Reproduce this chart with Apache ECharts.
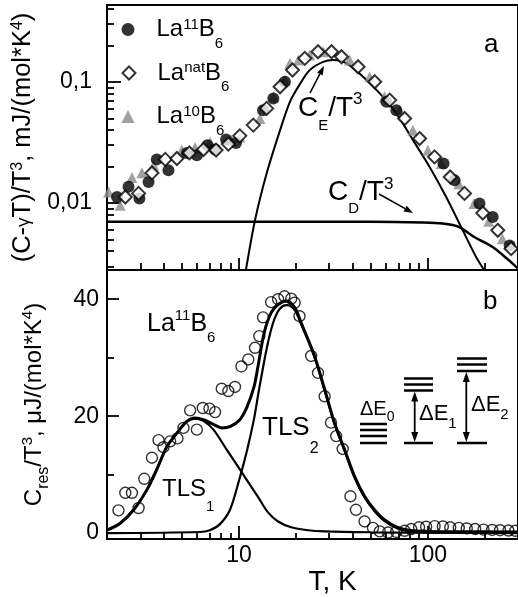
<!DOCTYPE html>
<html><head><meta charset="utf-8">
<script src="https://cdn.jsdelivr.net/npm/echarts@6/dist/echarts.min.js"></script>
<style>html,body{margin:0;padding:0;background:#fff}#c{width:518px;height:597px}</style>
</head><body><div id="c"></div>
<script>
const FONT = 'Liberation Sans, Arial, sans-serif';

// ---------- axis ranges & ticks ----------
const X_MIN = 2, X_MAX = 300;
const YT_MIN = 0.0028, YT_MAX = 0.43;
const YB_MIN = -1, YB_MAX = 45;
const xMajorTicks = [10, 100];
const xMinorTicks = [3, 4, 5, 6, 7, 8, 9, 20, 30, 40, 50, 60, 70, 80, 90, 200, 300];
const yTopMajorTicks = [0.01, 0.1];
const yTopMinorTicks = [0.003, 0.004, 0.005, 0.006, 0.007, 0.008, 0.009, 0.02, 0.03, 0.04, 0.05, 0.06, 0.07, 0.08, 0.09, 0.2, 0.3, 0.4];
const yBotLabels = [0, 20, 40];
const yBotMajorTicks = [0, 20, 40];
const yBotMinorTicks = [10, 30];

// ---------- panel a: (C - gamma T)/T^3 ----------
const T_La11 = [2.26, 2.60, 2.97, 3.32, 3.67, 4.23, 5.3, 5.98, 6.80, 7.47, 8.54, 9.64, 13.4, 15.2, 17.5, 60.3, 68.1, 121, 138.4, 187.6, 220.4, 271];
const C_La11 = [0.0112, 0.0136, 0.0109, 0.0149, 0.0229, 0.0186, 0.0258, 0.0248, 0.0300, 0.0276, 0.0334, 0.0313, 0.0583, 0.0729, 0.100, 0.0684, 0.0583, 0.0212, 0.0154, 0.00989, 0.00766, 0.00446];

const T_LaNat = [2.50, 2.94, 3.46, 4.07, 4.69, 5.46, 6.48, 7.56, 8.78, 10.1, 11.9, 14.0, 16.5, 19.2, 22.3, 26.2, 30.9, 34.9, 42.7, 52.3, 62.8, 75.3, 90.4, 108.5, 131.3, 156.3, 195.3, 234.4, 275.8];
const C_LaNat = [0.0112, 0.0120, 0.0177, 0.0229, 0.0233, 0.0259, 0.0276, 0.0273, 0.0306, 0.0358, 0.0439, 0.0603, 0.0910, 0.125, 0.156, 0.177, 0.177, 0.161, 0.133, 0.100, 0.0706, 0.0498, 0.0340, 0.0240, 0.0164, 0.0120, 0.00826, 0.00595, 0.0042];

const T_La10 = [2.04, 2.35, 2.71, 3.06, 3.53, 4.98, 5.85, 7.03, 9.15, 10.1, 12.9, 15.2, 17.5, 18.6, 20.6, 23.7, 27.9, 38.5, 49.2, 58.9, 70.8, 83.3, 99.9, 117.7, 146, 175.5, 210, 248];
const C_La10 = [0.0123, 0.0096, 0.0162, 0.0178, 0.0205, 0.0274, 0.0287, 0.0319, 0.0330, 0.0351, 0.0498, 0.0752, 0.103, 0.142, 0.151, 0.166, 0.177, 0.151, 0.110, 0.0752, 0.0583, 0.0399, 0.0272, 0.0212, 0.0144, 0.00989, 0.00707, 0.00508];

const T_CE = [10.6, 10.85, 12.15, 14.0, 16.5, 18.6, 21.0, 23.7, 27.9, 31.5, 37.1, 45.4, 55.6, 68.1, 83.4, 102, 125, 153, 180, 199, 210];
const V_CE = [0.0022, 0.00275, 0.0072, 0.0175, 0.0399, 0.0684, 0.0957, 0.125, 0.146, 0.151, 0.142, 0.110, 0.0802, 0.0548, 0.0330, 0.0199, 0.0112, 0.00595, 0.00358, 0.00277, 0.0023];

const T_CD = [2, 5, 10, 20, 50, 94, 120, 146, 176, 220, 269, 300];
const V_CD = [0.0070, 0.0070, 0.0070, 0.0070, 0.0070, 0.0069, 0.00676, 0.00634, 0.00524, 0.00433, 0.00336, 0.00287];

// ---------- panel b: C_res/T^3 ----------
const T_res = [2.30, 2.50, 2.71, 2.94, 3.15, 3.46, 3.75, 3.98, 4.32, 4.72, 5.08, 5.51, 5.98, 6.43, 6.97, 7.47, 8.10, 8.78, 9.52, 10.3, 11.2, 12.15, 12.8, 13.4, 14.8, 16.1, 17.4, 18.9, 19.7, 20.9, 24.1, 26.2, 28.4, 30.7, 32.7, 35.4, 38.9, 41.6, 46.2, 51.2, 55.6, 61.5, 68.0, 75.3, 81.6, 89.8, 97.9, 108.5, 120, 131.3, 145.7, 160.6, 178, 197, 219, 241, 267, 290];
const V_res = [3.9, 6.9, 6.9, 4.3, 9.3, 12.9, 15.9, 14.7, 15.7, 16.2, 18.0, 21.0, 17.7, 21.4, 21.3, 20.7, 24.7, 24.3, 25.0, 28.5, 29.7, 31.7, 33.7, 36.9, 39.5, 40.0, 40.5, 40.1, 39.4, 37.1, 30.3, 27.4, 23.4, 18.9, 16.6, 14.4, 6.3, 4.0, 2.0, 0.9, 0.3, 0.1, 0.2, 0.4, 0.7, 1.0, 1.1, 1.2, 1.15, 1.0, 0.9, 0.8, 0.7, 0.6, 0.55, 0.5, 0.45, 0.4];

const T_fit = [2.0, 2.35, 2.77, 3.25, 3.67, 4.15, 4.69, 5.29, 5.85, 6.48, 7.32, 8.1, 8.96, 10.1, 11.0, 12.0, 12.6, 13.6, 14.8, 16.1, 17.8, 19.7, 21.3, 25.1, 28.4, 32.0, 36.2, 40.9, 46.2, 52.1, 58.8, 69.0, 81, 100, 150, 300];
const V_fit = [0.5, 1.7, 4.0, 7.4, 10.9, 14.8, 17.1, 19.1, 19.7, 19.4, 18.6, 18.0, 18.2, 19.4, 21.5, 25.0, 28.5, 34.3, 37.7, 39.1, 39.7, 38.6, 36.0, 30.3, 24.6, 18.9, 14.3, 9.7, 6.3, 4.0, 2.3, 1.0, 0.45, 0.3, 0.25, 0.2];

const T_TLS1 = [2.0, 2.35, 2.77, 3.25, 3.67, 4.15, 4.69, 5.29, 5.85, 6.48, 7.32, 8.6, 10.1, 11.9, 12.6, 14.2, 16.1, 18.9, 23.2, 28.4, 50, 100, 300];
const V_TLS1 = [0.5, 1.7, 4.0, 7.4, 10.9, 14.8, 17.1, 19.1, 19.6, 19.2, 17.7, 14.3, 10.9, 7.4, 6.2, 3.6, 2.0, 1.0, 0.5, 0.3, 0.15, 0.08, 0.03];

const T_TLS2 = [2.0, 6.2, 7.0, 7.9, 8.96, 10.0, 11.0, 12.0, 12.6, 13.0, 14.0, 15.0, 16.0, 17.0, 18.0, 19.7, 21.3, 25.1, 28.4, 32.0, 36.2, 40.9, 46.2, 52.1, 58.8, 69.0, 81, 100, 150, 300];
const V_TLS2 = [0, 0.2, 0.5, 1.5, 4.0, 9.0, 14.0, 19.5, 23.5, 26.0, 31.5, 35.5, 37.8, 38.8, 39.0, 38.2, 35.8, 30.1, 24.4, 18.7, 14.1, 9.5, 6.1, 3.8, 2.1, 0.8, 0.3, 0.1, 0.05, 0.0];

// ---------- helpers ----------
const zip = (a, b) => a.map((v, i) => [v, b[i]]);
const isPow = (v, p) => Math.abs(Math.log10(v) - p) < 1e-6;

function rtext(x, y, text, fs, rich) {
  return {
    type: 'text', x: x, y: y, z: 50,
    style: {
      text: text, rich: rich, fill: '#000', fontFamily: FONT, fontSize: fs,
      align: 'left', verticalAlign: 'middle'
    }
  };
}
function tok(fs, padTop, padBottom) {
  return { fontFamily: FONT, fontSize: fs, fill: '#000', color: '#000', padding: [padTop || 0, 0, padBottom || 0, 0] };
}
function hline(x1, x2, y, w) {
  return { type: 'line', z: 50, shape: { x1: x1, y1: y, x2: x2, y2: y }, style: { stroke: '#000', lineWidth: w || 2.5 } };
}
function arrow(x1, y1, x2, y2, L, W) {
  const a = Math.atan2(y2 - y1, x2 - x1), c = Math.cos(a), s = Math.sin(a);
  const bx = x2 - L * c, by = y2 - L * s;
  return [
    { type: 'line', z: 50, shape: { x1: x1, y1: y1, x2: bx, y2: by }, style: { stroke: '#000', lineWidth: 1.6 } },
    { type: 'polygon', z: 50, shape: { points: [[x2, y2], [bx - W * s, by + W * c], [bx + W * s, by - W * c]] }, style: { fill: '#000' } }
  ];
}
function dblArrow(x, y1, y2) {
  return [
    { type: 'line', z: 50, shape: { x1: x, y1: y1 + 8, x2: x, y2: y2 - 8 }, style: { stroke: '#000', lineWidth: 1.8 } },
    { type: 'polygon', z: 50, shape: { points: [[x, y1], [x - 3.5, y1 + 10], [x + 3.5, y1 + 10]] }, style: { fill: '#000' } },
    { type: 'polygon', z: 50, shape: { points: [[x, y2], [x - 3.5, y2 - 10], [x + 3.5, y2 - 10]] }, style: { fill: '#000' } }
  ];
}

// tick marks drawn by the axes themselves (inside, custom values)
function ticks(values, len) {
  return { show: true, inside: true, length: len, customValues: values, lineStyle: { color: '#000', width: 1.8 } };
}
// hidden helper axis that only carries a second set of ticks
function auxAxis(gridIndex, type, min, max, position, values, len) {
  return {
    gridIndex: gridIndex, type: type, min: min, max: max, position: position, offset: 0,
    axisLine: { show: false, onZero: false }, axisLabel: { show: false }, splitLine: { show: false },
    axisTick: ticks(values, len)
  };
}

const legendRich = {
  s: { width: 17 },
  m: { fontFamily: FONT, fontSize: 24, color: '#000' },
  sp: { fontFamily: FONT, fontSize: 15, color: '#000', padding: [0, 0, 10, 0] },
  sb: { fontFamily: FONT, fontSize: 15, color: '#000', padding: [28, 0, 0, 0] }
};
function legendItem(name, top, text, itemStyle) {
  const l = {
    data: [name], left: 121.5, top: top, orient: 'vertical', itemWidth: 13, itemHeight: 13,
    padding: 0, selectedMode: false, formatter: () => text,
    textStyle: { fontFamily: FONT, fontSize: 24, color: '#000', rich: legendRich }
  };
  if (itemStyle) l.itemStyle = itemStyle;
  return l;
}

// ---------- graphic annotations ----------
const graphics = [];
graphics.push(rtext(484, 45, 'a', 26));
graphics.push(rtext(483, 301.5, 'b', 26));
graphics.push(rtext(298, 108.3, '{m|C}{sb|E}{m|/T}{sp|3}', 28, { m: tok(28), sb: tok(15, 35, 0), sp: tok(17, 0, 17) }));
graphics.push(rtext(328, 192, '{m|C}{sb|D}{m|/T}{sp|3}', 28, { m: tok(28), sb: tok(15, 33, 0), sp: tok(17, 0, 15) }));
graphics.push(rtext(147, 324.3, '{m|La}{sp|11}{m|B}{sb|6}', 25, { m: tok(25), sp: tok(15, 0, 16), sb: tok(15, 28, 0) }));
graphics.push(rtext(162, 489.7, '{m|TLS}{sb|1}', 24, { m: tok(24), sb: tok(15, 34, 0) }));
graphics.push(rtext(262, 427.7, '{m|TLS}{sb|2}', 26, { m: tok(26), sb: tok(16, 42, 0) }));
graphics.push(rtext(360, 409, '{m|ΔE}{sb|0}', 20, { m: tok(20), sb: tok(14, 16, 0) }));
graphics.push(rtext(419, 414, '{m|ΔE}{sb|1}', 22, { m: tok(22), sb: tok(15, 20, 0) }));
graphics.push(rtext(471, 405, '{m|ΔE}{sb|2}', 22, { m: tok(22), sb: tok(15, 20, 0) }));
[424, 430, 436, 443].forEach(y => graphics.push(hline(360, 387, y)));
[378.5, 384.5, 390.5, 443].forEach(y => graphics.push(hline(404, 433, y)));
[358.5, 364.5, 371, 443].forEach(y => graphics.push(hline(457, 487, y)));
graphics.push(...dblArrow(414.7, 391.5, 442));
graphics.push(...dblArrow(466.3, 372, 442));
graphics.push(...arrow(310, 93, 324, 66, 9, 3.2));
graphics.push(...arrow(379, 194, 413, 213, 9, 3.2));

// ---------- chart ----------
const chart = echarts.init(document.getElementById('c'));
const lab = { fontFamily: FONT, fontSize: 23, color: '#000' };

const option = {
  animation: false,
  grid: [
    { left: 107, top: 5, width: 412, height: 265, show: true, borderColor: '#000', borderWidth: 2 },
    { left: 107, top: 270, width: 412, height: 269, show: true, borderColor: '#000', borderWidth: 2 }
  ],
  xAxis: [
    { gridIndex: 0, type: 'log', min: X_MIN, max: X_MAX, position: 'bottom', offset: 0,
      axisLine: { show: false, onZero: false }, axisTick: ticks(xMinorTicks, 7),
      axisLabel: { show: false }, splitLine: { show: false } },
    { gridIndex: 1, type: 'log', min: X_MIN, max: X_MAX, position: 'bottom', offset: 0,
      axisLine: { show: false, onZero: false }, axisTick: ticks(xMinorTicks, 6), splitLine: { show: false },
      axisLabel: Object.assign({ margin: 5, showMinLabel: false, showMaxLabel: false,
        formatter: v => isPow(v, 1) ? '10' : (isPow(v, 2) ? '100' : '') }, lab),
      name: 'T, K', nameLocation: 'middle', nameGap: 28,
      nameTextStyle: { fontFamily: FONT, fontSize: 28, color: '#000', padding: [0, 0, 0, 40] } },
    auxAxis(0, 'log', X_MIN, X_MAX, 'bottom', xMajorTicks, 12),
    auxAxis(1, 'log', X_MIN, X_MAX, 'bottom', xMajorTicks, 13)
  ],
  yAxis: [
    { gridIndex: 0, type: 'log', min: YT_MIN, max: YT_MAX, position: 'left', offset: 0,
      axisLine: { show: false }, axisTick: ticks(yTopMinorTicks, 7), splitLine: { show: false },
      axisLabel: Object.assign({ margin: 15, showMinLabel: false, showMaxLabel: false,
        formatter: v => isPow(v, -1) ? '0,1' : (isPow(v, -2) ? '0,01' : '') }, lab),
      name: '{m|(C-}{g|γ}{m|T)/T}{sp|3}{m|, mJ/(mol*K}{sp|4}{m|)}',
      nameLocation: 'middle', nameRotate: 90, nameGap: 57,
      nameTextStyle: { rich: { m: tok(25.5), g: tok(19), sp: tok(16, 0, 12) } } },
    { gridIndex: 1, type: 'value', min: YB_MIN, max: YB_MAX, position: 'left', offset: 0,
      axisLine: { show: false }, axisTick: ticks(yBotMajorTicks, 12), splitLine: { show: false },
      axisLabel: Object.assign({ margin: 8, customValues: yBotLabels }, lab),
      name: '{m|C}{sb|res}{m|/T}{sp|3}{m|, μJ/(mol*K}{sp|4}{m|)}',
      nameLocation: 'middle', nameRotate: 90, nameGap: 55,
      nameTextStyle: { rich: { m: tok(24), sb: tok(16, 20, 0), sp: tok(15, 0, 12) } } },
    auxAxis(0, 'log', YT_MIN, YT_MAX, 'left', yTopMajorTicks, 14),
    auxAxis(1, 'value', YB_MIN, YB_MAX, 'left', yBotMinorTicks, 7)
  ],
  legend: [
    legendItem('La11B6', 17, '{s| }{m|La}{sp|11}{m|B}{sb|6}'),
    legendItem('LanatB6', 60.5, '{s| }{m|La}{sp|nat}{m|B}{sb|6}', { color: '#fff', borderColor: '#000', borderWidth: 2 }),
    legendItem('La10B6', 104, '{s| }{m|La}{sp|10}{m|B}{sb|6}')
  ],
  graphic: graphics,
  series: [
    { name: 'C_E/T3', type: 'line', xAxisIndex: 0, yAxisIndex: 0, data: zip(T_CE, V_CE), showSymbol: false, smooth: 0.3,
      lineStyle: { color: '#000', width: 2 }, z: 1 },
    { name: 'C_D/T3', type: 'line', xAxisIndex: 0, yAxisIndex: 0, data: zip(T_CD, V_CD), showSymbol: false, smooth: 0.3,
      lineStyle: { color: '#000', width: 2.5 }, z: 1 },
    { name: 'La10B6', type: 'scatter', xAxisIndex: 0, yAxisIndex: 0, data: zip(T_La10, C_La10), symbol: 'triangle', symbolSize: 11,
      itemStyle: { color: '#8a8a8a' }, z: 2 },
    { name: 'La11B6', type: 'scatter', xAxisIndex: 0, yAxisIndex: 0, data: zip(T_La11, C_La11), symbol: 'circle', symbolSize: 12,
      itemStyle: { color: '#000' }, z: 3 },
    { name: 'LanatB6', type: 'scatter', xAxisIndex: 0, yAxisIndex: 0, data: zip(T_LaNat, C_LaNat), symbol: 'diamond', symbolSize: 13,
      itemStyle: { color: '#fff', borderColor: '#000', borderWidth: 2 }, z: 4 },
    { name: 'Cres', type: 'scatter', xAxisIndex: 1, yAxisIndex: 1, data: zip(T_res, V_res), symbol: 'circle', symbolSize: 11,
      itemStyle: { color: 'rgba(255,255,255,0)', borderColor: '#000', borderWidth: 1.4 }, z: 2 },
    { name: 'fit', type: 'line', xAxisIndex: 1, yAxisIndex: 1, data: zip(T_fit, V_fit), showSymbol: false, smooth: 0.3,
      lineStyle: { color: '#000', width: 3 }, z: 3 },
    { name: 'TLS1', type: 'line', xAxisIndex: 1, yAxisIndex: 1, data: zip(T_TLS1, V_TLS1), showSymbol: false, smooth: 0.3,
      lineStyle: { color: '#000', width: 2.2 }, z: 3 },
    { name: 'TLS2', type: 'line', xAxisIndex: 1, yAxisIndex: 1, data: zip(T_TLS2, V_TLS2), showSymbol: false, smooth: 0.3,
      lineStyle: { color: '#000', width: 2.2 }, z: 3 }
  ]
};
chart.setOption(option);
</script>
</body></html>
